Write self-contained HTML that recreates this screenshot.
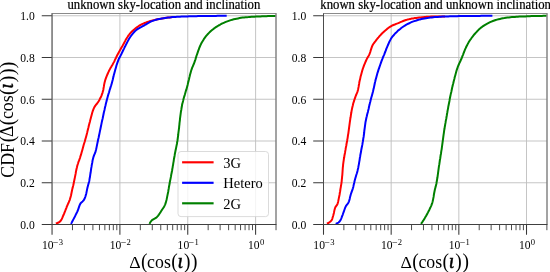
<!DOCTYPE html>
<html><head><meta charset="utf-8"><title>CDF plot</title>
<style>html,body{margin:0;padding:0;background:#fff}svg{display:block}text{font-family:"Liberation Serif","DejaVu Serif",serif;fill:#000}</style></head><body>
<svg width="550" height="272" viewBox="0 0 550 272">
<rect width="550" height="272" fill="#fff"/>
<clipPath id="c0"><rect x="52.05" y="13.5" width="223.95" height="211.00"/></clipPath>
<path d="M52.05 13.5V224.5M119.90 13.5V224.5M187.75 13.5V224.5M255.60 13.5V224.5M52.05 224.50H276.0M52.05 182.75H276.0M52.05 141.00H276.0M52.05 99.25H276.0M52.05 57.50H276.0M52.05 15.75H276.0" stroke="#bebebe" stroke-width="0.9" fill="none"/>
<g clip-path="url(#c0)" fill="none" stroke-width="2" stroke-linejoin="round" stroke-linecap="butt">
<polyline stroke="#ff0000" points="55.8,223.2 57.3,223.0 58.7,222.5 59.9,221.6 60.9,220.5 61.7,219.2 62.3,217.9 62.9,216.4 63.5,215.0 64.1,213.7 64.6,212.3 65.2,210.9 65.7,209.5 66.3,208.1 66.8,206.7 67.4,205.3 68.0,203.9 68.7,202.5 69.2,201.2 69.8,199.8 70.2,198.3 70.6,196.9 71.0,195.5 71.3,194.0 71.6,192.5 71.9,191.0 72.2,189.6 72.6,188.1 72.9,186.7 73.3,185.2 73.6,183.7 73.9,182.3 74.2,180.8 74.5,179.3 74.8,177.9 75.1,176.4 75.4,174.9 75.7,173.4 75.9,171.9 76.2,170.5 76.5,169.0 76.9,167.5 77.2,166.1 77.6,164.7 78.1,163.2 78.5,161.8 79.1,160.4 79.6,159.0 80.1,157.6 80.5,156.1 81.0,154.7 81.4,153.3 81.8,151.8 82.2,150.4 82.6,148.9 83.0,147.5 83.4,146.0 83.8,144.6 84.2,143.2 84.7,141.7 85.1,140.3 85.5,138.8 85.9,137.4 86.3,135.9 86.7,134.5 87.1,133.0 87.4,131.6 87.8,130.1 88.1,128.7 88.5,127.2 88.8,125.8 89.2,124.3 89.6,122.8 90.0,121.4 90.3,119.9 90.7,118.5 91.1,117.0 91.5,115.5 91.9,114.0 92.3,112.6 92.7,111.2 93.2,109.8 93.8,108.4 94.4,107.1 95.2,105.9 96.1,104.7 97.1,103.5 98.0,102.2 98.8,101.0 99.5,99.7 100.2,98.3 100.9,97.0 101.5,95.6 102.0,94.2 102.5,92.8 102.9,91.3 103.3,89.9 103.5,88.4 103.8,86.9 104.0,85.4 104.3,83.9 104.6,82.5 105.0,81.1 105.4,79.6 105.9,78.2 106.4,76.8 107.0,75.4 107.6,74.0 108.2,72.6 108.8,71.3 109.5,69.9 110.2,68.6 111.0,67.3 111.7,66.0 112.5,64.7 113.2,63.4 113.9,62.1 114.6,60.7 115.2,59.4 115.9,58.0 116.5,56.7 117.2,55.3 117.9,54.0 118.6,52.7 119.3,51.4 120.1,50.1 120.8,48.8 121.5,47.5 122.3,46.2 123.0,44.9 123.8,43.5 124.5,42.2 125.2,40.9 125.9,39.5 126.7,38.2 127.5,37.0 128.3,35.7 129.2,34.6 130.1,33.4 131.1,32.3 132.2,31.2 133.3,30.2 134.5,29.2 135.6,28.3 136.8,27.4 138.1,26.5 139.3,25.7 140.6,24.9 142.0,24.2 143.3,23.6 144.7,23.0 146.1,22.5 147.5,21.9 148.9,21.5 150.4,21.0 151.8,20.6 153.3,20.2 154.7,19.9 156.2,19.5 157.6,19.2 159.1,18.9 160.6,18.7 162.1,18.4 163.6,18.2 165.0,18.0 166.5,17.8 168.0,17.6 169.5,17.4 171.0,17.3 172.5,17.1 174.0,17.0 174.5,16.9"/>
<polyline stroke="#0000ff" points="71.0,223.9 71.7,222.6 72.4,221.2 73.1,219.9 73.8,218.6 74.5,217.3 75.2,215.9 75.8,214.6 76.5,213.2 77.2,211.9 77.8,210.5 78.3,209.1 78.8,207.6 79.3,206.2 79.8,204.8 80.5,203.5 81.4,202.4 82.6,201.4 83.7,200.3 84.4,199.1 85.0,197.7 85.5,196.2 85.9,194.8 86.3,193.4 86.6,191.9 86.9,190.4 87.2,188.9 87.5,187.5 87.9,186.0 88.3,184.6 88.7,183.1 89.1,181.7 89.4,180.2 89.6,178.7 89.9,177.3 90.1,175.8 90.3,174.3 90.6,172.8 90.8,171.3 91.0,169.8 91.2,168.4 91.5,166.9 91.7,165.4 92.0,163.9 92.3,162.4 92.5,160.9 92.8,159.5 93.2,158.0 93.6,156.6 94.1,155.2 94.7,153.8 95.3,152.4 95.7,151.0 96.1,149.5 96.4,148.1 96.7,146.6 97.0,145.1 97.3,143.6 97.6,142.2 97.9,140.7 98.2,139.2 98.6,137.8 98.9,136.3 99.2,134.8 99.5,133.4 99.8,131.9 100.1,130.4 100.4,129.0 100.7,127.5 101.0,126.0 101.3,124.6 101.6,123.1 101.9,121.6 102.2,120.2 102.6,118.7 102.9,117.2 103.2,115.8 103.5,114.3 103.8,112.8 104.1,111.4 104.5,109.9 104.8,108.4 105.1,107.0 105.5,105.5 105.8,104.1 106.2,102.6 106.6,101.1 106.9,99.7 107.3,98.2 107.7,96.8 108.1,95.3 108.5,93.9 109.0,92.5 109.4,91.0 109.8,89.6 110.3,88.2 110.7,86.7 111.2,85.3 111.6,83.9 112.0,82.4 112.4,81.0 112.8,79.5 113.1,78.1 113.5,76.6 113.8,75.1 114.2,73.7 114.6,72.2 115.0,70.8 115.4,69.3 115.8,67.9 116.2,66.5 116.6,65.0 117.1,63.6 117.6,62.2 118.1,60.8 118.6,59.4 119.3,58.0 120.0,56.7 120.7,55.4 121.4,54.0 122.0,52.7 122.7,51.3 123.3,50.0 124.0,48.6 124.6,47.3 125.3,46.0 126.0,44.6 126.7,43.3 127.4,41.9 128.1,40.6 128.8,39.3 129.6,38.0 130.4,36.8 131.3,35.5 132.2,34.3 133.2,33.1 134.2,32.0 135.2,30.9 136.3,30.0 137.5,29.1 138.8,28.3 140.1,27.6 141.5,26.9 142.8,26.2 144.1,25.5 145.4,24.7 146.7,24.0 148.0,23.2 149.3,22.4 150.7,21.7 152.0,21.1 153.4,20.6 154.8,20.1 156.2,19.7 157.7,19.3 159.2,19.0 160.7,18.7 162.1,18.4 163.6,18.2 165.1,18.0 166.6,17.8 168.1,17.6 169.6,17.4 171.1,17.2 172.6,17.1 174.1,17.0 175.5,16.9 177.0,16.8 178.5,16.7 180.0,16.7 181.5,16.6 183.0,16.5 184.5,16.5 186.0,16.4 187.5,16.4 189.0,16.3 190.5,16.3 192.0,16.3 193.5,16.2 195.0,16.2 196.5,16.2 198.0,16.1 199.5,16.1 201.0,16.1 202.5,16.1 204.0,16.0 205.5,16.0 207.0,16.0 208.5,16.0 210.0,15.9 211.5,15.9 213.0,15.9 214.5,15.9 216.0,15.9 217.5,15.8 219.0,15.8 220.5,15.8 222.0,15.8 223.5,15.8 225.0,15.8 226.5,15.8 226.7,15.8"/>
<polyline stroke="#008000" points="149.5,223.9 150.2,222.5 151.0,221.3 152.0,220.2 153.3,219.4 154.6,218.7 155.9,217.9 157.0,216.9 158.0,215.8 158.9,214.6 159.8,213.3 160.6,212.1 161.4,210.8 162.2,209.5 163.1,208.2 163.9,207.0 164.6,205.6 165.2,204.3 165.7,202.9 166.1,201.5 166.5,200.0 166.8,198.6 167.1,197.1 167.4,195.6 167.7,194.1 168.0,192.7 168.3,191.2 168.5,189.7 168.8,188.2 169.0,186.7 169.3,185.3 169.6,183.8 169.8,182.3 170.1,180.8 170.4,179.4 170.7,177.9 171.0,176.4 171.2,174.9 171.5,173.5 171.8,172.0 172.1,170.5 172.3,169.0 172.6,167.6 172.8,166.1 173.1,164.6 173.3,163.1 173.6,161.6 173.8,160.2 174.0,158.7 174.3,157.2 174.6,155.7 174.8,154.3 175.1,152.8 175.4,151.3 175.7,149.8 176.0,148.4 176.3,146.9 176.6,145.4 176.9,144.0 177.1,142.5 177.4,141.0 177.6,139.5 177.8,138.0 178.0,136.5 178.2,135.0 178.3,133.6 178.5,132.1 178.7,130.6 178.9,129.1 179.1,127.6 179.2,126.1 179.4,124.6 179.5,123.1 179.7,121.6 179.9,120.1 180.0,118.7 180.2,117.2 180.4,115.7 180.6,114.2 180.8,112.7 181.0,111.2 181.3,109.7 181.5,108.3 181.8,106.8 182.0,105.3 182.3,103.8 182.7,102.4 183.1,100.9 183.4,99.5 183.8,98.0 184.2,96.6 184.7,95.1 185.1,93.7 185.5,92.3 185.9,90.8 186.4,89.4 186.8,87.9 187.2,86.5 187.6,85.0 187.9,83.6 188.3,82.1 188.6,80.7 189.0,79.2 189.3,77.7 189.7,76.3 190.0,74.8 190.4,73.4 190.8,71.9 191.2,70.5 191.7,69.1 192.2,67.7 192.8,66.3 193.4,64.9 194.0,63.5 194.5,62.1 195.0,60.7 195.5,59.3 195.9,57.8 196.3,56.4 196.8,55.0 197.3,53.6 197.8,52.1 198.3,50.7 198.8,49.3 199.3,47.9 199.9,46.5 200.5,45.1 201.1,43.8 201.8,42.5 202.6,41.2 203.4,39.9 204.2,38.6 205.1,37.4 206.0,36.2 206.9,35.1 207.9,34.0 209.0,32.9 210.1,31.8 211.2,30.8 212.4,29.8 213.5,28.9 214.7,28.0 215.9,27.1 217.2,26.3 218.5,25.5 219.8,24.8 221.1,24.0 222.4,23.4 223.8,22.8 225.2,22.2 226.6,21.6 228.0,21.1 229.4,20.6 230.8,20.1 232.3,19.7 233.7,19.3 235.2,19.0 236.6,18.7 238.1,18.4 239.6,18.1 241.1,17.8 242.6,17.6 244.1,17.5 245.6,17.3 247.0,17.2 248.5,17.1 250.0,16.9 251.5,16.8 253.0,16.8 254.5,16.7 256.0,16.6 257.5,16.5 259.0,16.5 260.5,16.4 262.0,16.3 263.5,16.3 265.0,16.2 266.5,16.2 268.0,16.1 269.5,16.1 271.0,16.0 272.5,16.0 274.0,16.0 275.5,16.0 275.7,16.0"/>
</g>
<path d="M52.05 224.5v10.3M119.90 224.5v10.3M187.75 224.5v10.3M255.60 224.5v10.3M52.05 224.50h-10.3M52.05 182.75h-10.3M52.05 141.00h-10.3M52.05 99.25h-10.3M52.05 57.50h-10.3M52.05 15.75h-10.3" stroke="#383838" stroke-width="1.05" fill="none"/>
<path d="M72.47 224.5v5.7M84.42 224.5v5.7M92.90 224.5v5.7M99.48 224.5v5.7M104.85 224.5v5.7M109.39 224.5v5.7M113.32 224.5v5.7M116.80 224.5v5.7M140.32 224.5v5.7M152.27 224.5v5.7M160.75 224.5v5.7M167.33 224.5v5.7M172.70 224.5v5.7M177.24 224.5v5.7M181.17 224.5v5.7M184.65 224.5v5.7M208.17 224.5v5.7M220.12 224.5v5.7M228.60 224.5v5.7M235.18 224.5v5.7M240.55 224.5v5.7M245.09 224.5v5.7M249.02 224.5v5.7M252.50 224.5v5.7M276.02 224.5v5.7" stroke="#383838" stroke-width="0.9" fill="none"/>
<path d="M51.55 13.5H276.50" stroke="#8a8a8a" stroke-width="1" fill="none"/>
<path d="M276.00 13.5V224.5" stroke="#7c7c7c" stroke-width="1.4" fill="none"/>
<path d="M52.05 13.5V224.5" stroke="#585858" stroke-width="1.15" fill="none"/>
<path d="M51.55 224.5H276.50" stroke="#404040" stroke-width="1" fill="none"/>
<text transform="translate(34.75,228.80) scale(1,1.08)" font-size="11.6" text-anchor="end">0.0</text>
<text transform="translate(34.75,187.05) scale(1,1.08)" font-size="11.6" text-anchor="end">0.2</text>
<text transform="translate(34.75,145.30) scale(1,1.08)" font-size="11.6" text-anchor="end">0.4</text>
<text transform="translate(34.75,103.55) scale(1,1.08)" font-size="11.6" text-anchor="end">0.6</text>
<text transform="translate(34.75,61.80) scale(1,1.08)" font-size="11.6" text-anchor="end">0.8</text>
<text transform="translate(34.75,20.05) scale(1,1.08)" font-size="11.6" text-anchor="end">1.0</text>
<text transform="translate(41.90,249.40) scale(1,1.08)" font-size="11.6">10</text>
<text transform="translate(52.85,246.10) scale(1,1.0)" font-size="10">−</text>
<text transform="translate(58.70,245.10) scale(1,1.05)" font-size="8.6">3</text>
<text transform="translate(109.75,249.40) scale(1,1.08)" font-size="11.6">10</text>
<text transform="translate(120.70,246.10) scale(1,1.0)" font-size="10">−</text>
<text transform="translate(126.55,245.10) scale(1,1.05)" font-size="8.6">2</text>
<text transform="translate(177.60,249.40) scale(1,1.08)" font-size="11.6">10</text>
<text transform="translate(188.55,246.10) scale(1,1.0)" font-size="10">−</text>
<text transform="translate(194.40,245.10) scale(1,1.05)" font-size="8.6">1</text>
<text transform="translate(248.00,249.40) scale(1,1.08)" font-size="11.6">10</text>
<text transform="translate(259.95,245.10) scale(1,1.05)" font-size="8.6">0</text>
<text transform="translate(67.50,9.10) scale(1,1.1)" font-size="12.75" stroke="#000" stroke-width="0.2">unknown sky-location and inclination</text>
<g transform="translate(129.3,267.6)"><text transform="translate(0.00,0.30) scale(1,0.97)" font-size="17.8">Δ</text><text transform="translate(11.70,0.70) scale(1,1.05)" font-size="19.5">(</text><text transform="translate(17.80,0.30) scale(1,1.03)" font-size="17.8">cos</text><text transform="translate(41.90,0.70) scale(1,1.05)" font-size="19.5">(</text><text transform="translate(48.20,0.30) scale(1,1.0)" font-size="20.3" font-style="italic" stroke="#000" stroke-width="0.45">ι</text><text transform="translate(54.70,0.70) scale(1,1.05)" font-size="19.5">)</text><text transform="translate(61.80,0.70) scale(1,1.05)" font-size="19.5">)</text></g>
<clipPath id="c1"><rect x="323.5" y="13.5" width="223.50" height="211.00"/></clipPath>
<path d="M323.50 13.5V224.5M391.17 13.5V224.5M458.84 13.5V224.5M526.51 13.5V224.5M323.5 224.50H547.0M323.5 182.75H547.0M323.5 141.00H547.0M323.5 99.25H547.0M323.5 57.50H547.0M323.5 15.75H547.0" stroke="#bebebe" stroke-width="0.9" fill="none"/>
<g clip-path="url(#c1)" fill="none" stroke-width="2" stroke-linejoin="round" stroke-linecap="butt">
<polyline stroke="#ff0000" points="326.9,223.7 328.4,223.0 329.7,222.1 330.8,221.2 331.7,220.1 332.3,218.8 332.7,217.3 333.2,215.8 333.5,214.4 333.9,212.9 334.2,211.4 334.5,209.9 334.9,208.5 335.4,207.1 336.3,205.9 337.2,204.7 337.7,203.3 338.1,201.9 338.4,200.4 338.7,198.9 339.0,197.4 339.3,196.0 339.6,194.5 339.8,193.0 340.1,191.5 340.3,190.0 340.5,188.6 340.8,187.1 341.0,185.6 341.3,184.1 341.5,182.6 341.7,181.1 341.8,179.7 342.0,178.2 342.1,176.7 342.3,175.2 342.4,173.7 342.5,172.2 342.6,170.7 342.7,169.2 342.8,167.7 343.0,166.2 343.1,164.7 343.3,163.2 343.5,161.7 343.7,160.3 343.9,158.8 344.2,157.3 344.4,155.8 344.7,154.3 345.0,152.9 345.2,151.4 345.5,149.9 345.7,148.4 346.0,146.9 346.3,145.5 346.5,144.0 346.8,142.5 347.1,141.0 347.3,139.6 347.6,138.1 347.8,136.6 348.0,135.1 348.3,133.6 348.5,132.1 348.7,130.7 348.9,129.2 349.1,127.7 349.3,126.2 349.5,124.7 349.7,123.2 349.9,121.7 350.1,120.3 350.3,118.8 350.6,117.3 350.8,115.8 351.0,114.3 351.3,112.8 351.5,111.4 351.8,109.9 352.1,108.4 352.4,107.0 352.8,105.5 353.1,104.1 353.5,102.6 354.0,101.2 354.4,99.7 354.9,98.3 355.4,96.9 355.9,95.5 356.5,94.1 357.1,92.7 357.6,91.3 358.0,89.9 358.3,88.4 358.6,86.9 358.8,85.5 359.1,84.0 359.3,82.5 359.6,81.0 360.0,79.6 360.3,78.1 360.6,76.6 361.0,75.2 361.4,73.7 361.8,72.3 362.2,70.8 362.6,69.4 363.1,68.0 363.6,66.6 364.1,65.2 364.7,63.8 365.3,62.4 365.9,61.0 366.5,59.6 367.2,58.3 367.9,57.0 368.7,55.7 369.4,54.4 369.9,53.0 370.4,51.6 370.8,50.1 371.3,48.6 371.8,47.2 372.3,45.8 373.0,44.5 373.8,43.3 374.7,42.1 375.7,40.9 376.6,39.7 377.5,38.5 378.5,37.4 379.5,36.2 380.5,35.1 381.5,34.0 382.5,32.9 383.6,31.9 384.7,30.9 385.9,29.9 387.1,28.9 388.3,28.0 389.5,27.2 390.8,26.4 392.0,25.7 393.4,25.0 394.8,24.5 396.2,23.9 397.6,23.4 399.0,22.8 400.4,22.2 401.8,21.6 403.2,21.0 404.5,20.5 406.0,20.0 407.4,19.6 408.8,19.3 410.3,18.9 411.8,18.6 413.3,18.4 414.8,18.1 416.2,17.9 417.7,17.7 419.2,17.5 420.7,17.4 422.2,17.2 423.7,17.1 425.2,16.9 426.7,16.8 428.2,16.8 429.7,16.7 431.2,16.6 432.7,16.6 434.2,16.6 435.7,16.5 437.2,16.5 438.7,16.5 440.2,16.4 441.7,16.4 443.2,16.4 444.7,16.4 445.0,16.4"/>
<polyline stroke="#0000ff" points="335.7,223.9 337.2,223.3 338.5,222.5 339.6,221.5 340.4,220.4 341.0,219.1 341.6,217.6 342.1,216.2 342.7,214.8 343.2,213.3 343.7,211.9 344.2,210.5 344.7,209.0 345.2,207.7 345.8,206.3 346.6,205.1 347.6,203.9 348.4,202.7 349.0,201.3 349.4,199.9 349.8,198.4 350.1,196.9 350.5,195.5 350.9,194.0 351.4,192.6 351.9,191.2 352.4,189.8 352.9,188.3 353.3,186.9 353.6,185.4 353.9,184.0 354.3,182.5 354.6,181.0 355.0,179.6 355.4,178.1 355.8,176.7 356.2,175.3 356.7,173.8 357.1,172.4 357.5,170.9 357.8,169.5 358.2,168.0 358.4,166.6 358.7,165.1 359.0,163.6 359.2,162.1 359.5,160.6 359.7,159.2 359.9,157.7 360.2,156.2 360.4,154.7 360.7,153.2 361.0,151.8 361.2,150.3 361.5,148.8 361.8,147.3 362.1,145.9 362.4,144.4 362.6,142.9 362.9,141.4 363.1,140.0 363.3,138.5 363.6,137.0 363.8,135.5 364.0,134.0 364.2,132.5 364.3,131.0 364.5,129.5 364.7,128.1 364.9,126.6 365.1,125.1 365.3,123.6 365.5,122.1 365.8,120.7 366.1,119.2 366.4,117.7 366.8,116.3 367.1,114.8 367.5,113.3 367.9,111.9 368.2,110.4 368.6,109.0 368.9,107.5 369.2,106.0 369.6,104.6 369.9,103.1 370.3,101.7 370.6,100.2 371.0,98.8 371.4,97.3 371.8,95.9 372.2,94.4 372.6,93.0 373.0,91.5 373.3,90.1 373.7,88.6 374.0,87.1 374.3,85.7 374.6,84.2 374.9,82.7 375.3,81.3 375.6,79.8 376.0,78.4 376.4,76.9 376.8,75.5 377.2,74.0 377.6,72.6 378.1,71.2 378.5,69.7 379.0,68.3 379.5,66.9 380.0,65.5 380.5,64.0 381.0,62.6 381.5,61.2 382.0,59.8 382.6,58.4 383.1,57.0 383.7,55.7 384.3,54.3 384.8,52.9 385.4,51.5 385.9,50.1 386.4,48.7 387.0,47.3 387.6,45.9 388.2,44.5 388.8,43.1 389.4,41.7 390.1,40.4 390.8,39.1 391.6,37.8 392.4,36.6 393.4,35.5 394.4,34.3 395.4,33.2 396.5,32.2 397.6,31.1 398.7,30.1 399.9,29.2 401.0,28.2 402.3,27.3 403.5,26.5 404.8,25.7 406.0,24.9 407.3,24.2 408.7,23.5 410.0,22.8 411.4,22.2 412.8,21.6 414.2,21.1 415.6,20.7 417.1,20.2 418.5,19.8 420.0,19.4 421.4,19.1 422.9,18.8 424.4,18.5 425.9,18.2 427.3,18.0 428.8,17.8 430.3,17.5 431.8,17.4 433.3,17.2 434.8,17.1 436.3,17.0 437.8,16.9 439.3,16.8 440.8,16.7 442.3,16.6 443.8,16.5 445.3,16.5 446.8,16.4 448.3,16.4 449.8,16.3 451.3,16.3 452.8,16.3 454.3,16.2 455.8,16.2 457.3,16.2 458.8,16.1 460.3,16.1 461.8,16.1 463.3,16.1 464.8,16.0 466.3,16.0 467.8,16.0 469.3,16.0 470.8,16.0 472.3,15.9 473.8,15.9 475.3,15.9 476.8,15.9 478.3,15.9 479.8,15.9 481.3,15.8 482.8,15.8 484.3,15.8 485.8,15.8 487.3,15.8 488.8,15.8 490.3,15.8 491.8,15.8 492.4,15.8"/>
<polyline stroke="#008000" points="421.0,223.9 421.9,222.7 422.7,221.4 423.5,220.2 424.4,218.9 425.1,217.6 425.9,216.3 426.6,215.0 427.3,213.7 428.0,212.4 428.7,211.0 429.4,209.7 430.0,208.3 430.7,206.9 431.3,205.6 431.8,204.2 432.3,202.8 432.7,201.3 433.0,199.9 433.3,198.4 433.6,196.9 433.8,195.4 434.0,194.0 434.3,192.5 434.6,191.0 434.9,189.5 435.3,188.1 435.7,186.6 436.0,185.2 436.4,183.7 436.6,182.2 436.9,180.8 437.1,179.3 437.4,177.8 437.6,176.3 437.8,174.8 438.0,173.3 438.2,171.9 438.4,170.4 438.6,168.9 438.8,167.4 439.0,165.9 439.3,164.4 439.5,162.9 439.7,161.5 439.9,160.0 440.2,158.5 440.4,157.0 440.6,155.5 440.9,154.0 441.1,152.6 441.3,151.1 441.6,149.6 441.8,148.1 442.0,146.6 442.2,145.1 442.4,143.7 442.6,142.2 442.8,140.7 443.0,139.2 443.2,137.7 443.4,136.2 443.6,134.7 443.8,133.3 444.0,131.8 444.2,130.3 444.5,128.8 444.7,127.3 445.0,125.8 445.2,124.4 445.5,122.9 445.7,121.4 446.0,119.9 446.3,118.5 446.5,117.0 446.8,115.5 447.0,114.0 447.3,112.5 447.5,111.1 447.8,109.6 448.1,108.1 448.3,106.6 448.6,105.2 448.9,103.7 449.2,102.2 449.5,100.7 449.7,99.3 450.0,97.8 450.3,96.3 450.6,94.9 450.9,93.4 451.3,91.9 451.6,90.5 451.9,89.0 452.2,87.5 452.6,86.1 452.9,84.6 453.3,83.2 453.6,81.7 454.0,80.2 454.4,78.8 454.7,77.3 455.1,75.9 455.5,74.4 455.9,73.0 456.3,71.5 456.7,70.1 457.2,68.7 457.7,67.2 458.2,65.9 458.8,64.5 459.4,63.1 460.1,61.8 460.7,60.4 461.3,59.0 461.9,57.6 462.4,56.2 463.0,54.8 463.5,53.4 464.1,52.0 464.6,50.6 465.2,49.2 465.8,47.9 466.4,46.5 467.1,45.2 467.8,43.9 468.5,42.6 469.3,41.3 470.1,40.0 471.0,38.8 471.9,37.5 472.8,36.3 473.7,35.2 474.7,34.0 475.7,32.9 476.7,31.8 477.7,30.7 478.8,29.6 480.0,28.6 481.1,27.6 482.3,26.7 483.5,25.9 484.7,25.1 486.0,24.3 487.3,23.6 488.7,22.9 490.1,22.2 491.4,21.6 492.9,21.0 494.3,20.5 495.7,20.0 497.1,19.6 498.5,19.2 500.0,18.9 501.5,18.6 502.9,18.3 504.4,18.1 505.9,17.8 507.4,17.6 508.9,17.4 510.4,17.2 511.9,17.1 513.4,17.0 514.9,16.9 516.4,16.8 517.9,16.7 519.4,16.6 520.9,16.5 522.4,16.5 523.9,16.4 525.4,16.4 526.9,16.3 528.4,16.2 529.9,16.2 531.4,16.1 532.9,16.1 534.4,16.1 535.9,16.0 537.4,16.0 538.9,15.9 540.4,15.9 541.9,15.9 543.4,15.8 544.9,15.8 546.4,15.8 546.7,15.8"/>
</g>
<path d="M323.50 224.5v10.3M391.17 224.5v10.3M458.84 224.5v10.3M526.51 224.5v10.3M323.5 224.50h-10.3M323.5 182.75h-10.3M323.5 141.00h-10.3M323.5 99.25h-10.3M323.5 57.50h-10.3M323.5 15.75h-10.3" stroke="#383838" stroke-width="1.05" fill="none"/>
<path d="M343.87 224.5v5.7M355.79 224.5v5.7M364.24 224.5v5.7M370.80 224.5v5.7M376.16 224.5v5.7M380.69 224.5v5.7M384.61 224.5v5.7M388.07 224.5v5.7M411.54 224.5v5.7M423.46 224.5v5.7M431.91 224.5v5.7M438.47 224.5v5.7M443.83 224.5v5.7M448.36 224.5v5.7M452.28 224.5v5.7M455.74 224.5v5.7M479.21 224.5v5.7M491.13 224.5v5.7M499.58 224.5v5.7M506.14 224.5v5.7M511.50 224.5v5.7M516.03 224.5v5.7M519.95 224.5v5.7M523.41 224.5v5.7M546.88 224.5v5.7" stroke="#383838" stroke-width="0.9" fill="none"/>
<path d="M323.00 13.5H547.50" stroke="#8a8a8a" stroke-width="1" fill="none"/>
<path d="M547.00 13.5V224.5" stroke="#7c7c7c" stroke-width="1.4" fill="none"/>
<path d="M323.50 13.5V224.5" stroke="#4c4c4c" stroke-width="1.0" fill="none"/>
<path d="M323.00 224.5H547.50" stroke="#404040" stroke-width="1" fill="none"/>
<text transform="translate(306.20,228.80) scale(1,1.08)" font-size="11.6" text-anchor="end">0.0</text>
<text transform="translate(306.20,187.05) scale(1,1.08)" font-size="11.6" text-anchor="end">0.2</text>
<text transform="translate(306.20,145.30) scale(1,1.08)" font-size="11.6" text-anchor="end">0.4</text>
<text transform="translate(306.20,103.55) scale(1,1.08)" font-size="11.6" text-anchor="end">0.6</text>
<text transform="translate(306.20,61.80) scale(1,1.08)" font-size="11.6" text-anchor="end">0.8</text>
<text transform="translate(306.20,20.05) scale(1,1.08)" font-size="11.6" text-anchor="end">1.0</text>
<text transform="translate(313.35,249.40) scale(1,1.08)" font-size="11.6">10</text>
<text transform="translate(324.30,246.10) scale(1,1.0)" font-size="10">−</text>
<text transform="translate(330.15,245.10) scale(1,1.05)" font-size="8.6">3</text>
<text transform="translate(381.02,249.40) scale(1,1.08)" font-size="11.6">10</text>
<text transform="translate(391.97,246.10) scale(1,1.0)" font-size="10">−</text>
<text transform="translate(397.82,245.10) scale(1,1.05)" font-size="8.6">2</text>
<text transform="translate(448.69,249.40) scale(1,1.08)" font-size="11.6">10</text>
<text transform="translate(459.64,246.10) scale(1,1.0)" font-size="10">−</text>
<text transform="translate(465.49,245.10) scale(1,1.05)" font-size="8.6">1</text>
<text transform="translate(518.91,249.40) scale(1,1.08)" font-size="11.6">10</text>
<text transform="translate(530.86,245.10) scale(1,1.05)" font-size="8.6">0</text>
<text transform="translate(320.30,9.10) scale(1,1.1)" font-size="12.75" stroke="#000" stroke-width="0.2">known sky-location and unknown inclination</text>
<g transform="translate(400.6,267.6)"><text transform="translate(0.00,0.30) scale(1,0.97)" font-size="17.8">Δ</text><text transform="translate(11.70,0.70) scale(1,1.05)" font-size="19.5">(</text><text transform="translate(17.80,0.30) scale(1,1.03)" font-size="17.8">cos</text><text transform="translate(41.90,0.70) scale(1,1.05)" font-size="19.5">(</text><text transform="translate(48.20,0.30) scale(1,1.0)" font-size="20.3" font-style="italic" stroke="#000" stroke-width="0.45">ι</text><text transform="translate(54.70,0.70) scale(1,1.05)" font-size="19.5">)</text><text transform="translate(61.80,0.70) scale(1,1.05)" font-size="19.5">)</text></g>
<g transform="translate(13.0,177.0) rotate(-90)"><text transform="translate(-0.70,1.00) scale(1,1.06)" font-size="17.8">CDF</text><text transform="translate(34.85,1.10) scale(1,1.05)" font-size="19.5">(</text><text transform="translate(40.10,0.30) scale(1,1.05)" font-size="17.8">Δ</text><text transform="translate(51.80,1.10) scale(1,1.05)" font-size="19.5">(</text><text transform="translate(57.90,0.30) scale(1,1.03)" font-size="17.8">cos</text><text transform="translate(82.00,1.10) scale(1,1.05)" font-size="19.5">(</text><text transform="translate(88.30,0.30) scale(1,1.0)" font-size="20.3" font-style="italic" stroke="#000" stroke-width="0.45">ι</text><text transform="translate(94.80,1.10) scale(1,1.05)" font-size="19.5">)</text><text transform="translate(101.90,1.10) scale(1,1.05)" font-size="19.5">)</text><text transform="translate(108.70,1.10) scale(1,1.05)" font-size="19.5">)</text></g>
<rect x="178" y="151.5" width="90.5" height="65.1" rx="3" ry="3" fill="#fff" fill-opacity="0.8" stroke="#d2d2d2" stroke-opacity="0.8" stroke-width="1"/>
<path d="M182.1 162.30H213.6" stroke="#ff0000" stroke-width="2.15" fill="none"/>
<text transform="translate(223.30,167.55) scale(1,1.06)" font-size="14.5">3G</text>
<path d="M182.1 182.80H213.6" stroke="#0000ff" stroke-width="2.15" fill="none"/>
<text transform="translate(223.30,188.05) scale(1,1.06)" font-size="14.5">Hetero</text>
<path d="M182.1 203.30H213.6" stroke="#008000" stroke-width="2.15" fill="none"/>
<text transform="translate(223.30,208.55) scale(1,1.06)" font-size="14.5">2G</text>
</svg></body></html>
